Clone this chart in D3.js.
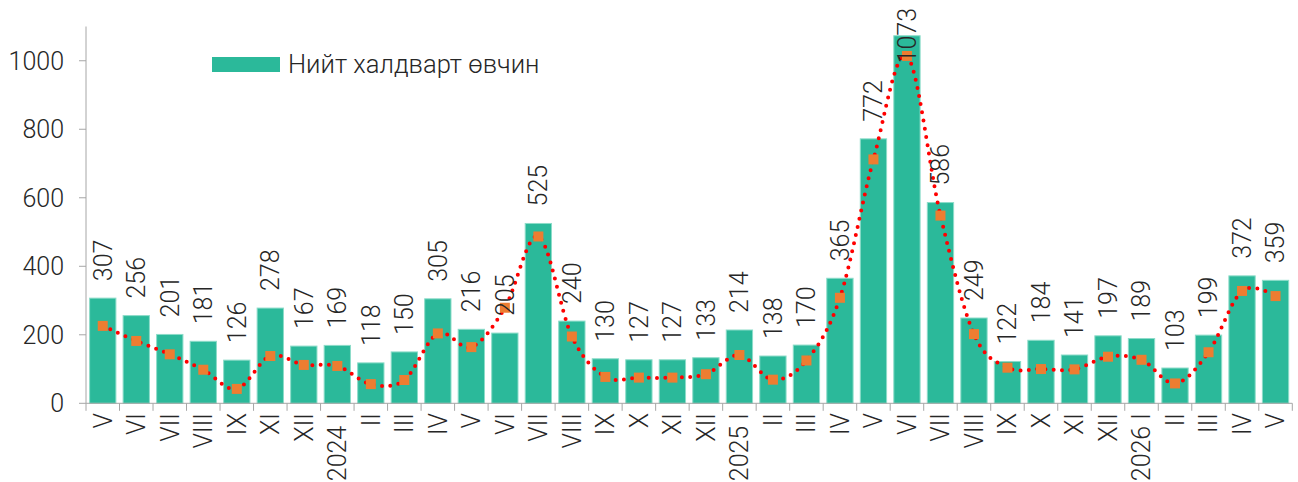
<!DOCTYPE html>
<html>
<head>
<meta charset="utf-8">
<script src="https://cdn.jsdelivr.net/npm/d3@7"></script>
<style>
    html, body { margin: 0; padding: 0; background: #fff; }
    svg text { font-family: Roboto, sans-serif; font-weight: 300; fill: #262626; }
</style>
</head>
<body>
<svg id="chart" width="1298" height="482"></svg>
<script>
// categories (months), 2023-V .. 2026-V
const months = ['V', 'VI', 'VII', 'VIII', 'IX', 'XI', 'XII',
    '2024 I', 'II', 'III', 'IV', 'V', 'VI', 'VII', 'VIII', 'IX', 'X', 'XI', 'XII',
    '2025 I', 'II', 'III', 'IV', 'V', 'VI', 'VII', 'VIII', 'IX', 'X', 'XI', 'XII',
    '2026 I', 'II', 'III', 'IV', 'V']

// total infectious disease cases (bars)
const totals = [307, 256, 201, 181, 126, 278, 167, 169, 118, 150, 305, 216, 205, 525, 240,
    130, 127, 127, 133, 214, 138, 170, 365, 772, 1073, 586, 249, 122, 184, 141, 197, 189,
    103, 199, 372, 359]

// second series (orange markers + red dotted smoothed line)
const trend = [226, 182, 143, 98, 42, 138, 112, 109, 56, 68, 204, 164, 279, 487, 195,
    77, 75, 75, 85, 141, 69, 125, 308, 712, 1014, 548, 202, 104, 100, 99, 136, 127,
    58, 149, 328, 313]

const yTicks = [0, 200, 400, 600, 800, 1000]
const legendLabel = 'Нийт халдварт өвчин'

const svg = d3.select('#chart')
const axisColor = '#a6a6a6'
const fontSize = 25

const x = d3.scaleBand()
    .domain(d3.range(months.length))
    .range([86, 1292.3])
    .paddingInner(0.215)
    .paddingOuter(0.1075)

const y = d3.scaleLinear()
    .domain([0, 1100])
    .range([403.3, 26.5])

// bars
svg.append('g')
    .selectAll('rect')
    .data(totals)
    .join('rect')
    .attr('x', (d, i) => x(i))
    .attr('y', d => y(d))
    .attr('width', x.bandwidth())
    .attr('height', d => y(0) - y(d))
    .attr('fill', '#2bb99a')
    .attr('stroke', '#8cdcc9')
    .attr('stroke-width', 1)

// y axis
const yAxis = svg.append('g')
yAxis.append('line')
    .attr('x1', 86).attr('x2', 86)
    .attr('y1', y(1100)).attr('y2', y(0))
    .attr('stroke', axisColor)
yAxis.selectAll('line.tick')
    .data(yTicks)
    .join('line')
    .classed('tick', true)
    .attr('x1', 79).attr('x2', 86)
    .attr('y1', d => y(d)).attr('y2', d => y(d))
    .attr('stroke', axisColor)
yAxis.selectAll('text')
    .data(yTicks)
    .join('text')
    .attr('x', 64)
    .attr('y', d => y(d))
    .attr('dy', '0.35em')
    .attr('text-anchor', 'end')
    .style('font-size', fontSize + 'px')
    .text(d => d)

// x axis
const xAxis = svg.append('g')
xAxis.append('line')
    .attr('x1', 86).attr('x2', 1292.3)
    .attr('y1', y(0)).attr('y2', y(0))
    .attr('stroke', axisColor)
xAxis.selectAll('line.tick')
    .data(d3.range(months.length + 1))
    .join('line')
    .classed('tick', true)
    .attr('x1', i => 86 + i * x.step()).attr('x2', i => 86 + i * x.step())
    .attr('y1', y(0)).attr('y2', y(0) + 7.5)
    .attr('stroke', axisColor)
xAxis.selectAll('text')
    .data(months)
    .join('text')
    .attr('transform', (d, i) => `translate(${x(i) + x.bandwidth() / 2} 413) rotate(-90)`)
    .attr('dy', '0.35em')
    .attr('text-anchor', 'end')
    .style('font-size', fontSize + 'px')
    .text(d => d)

// smoothed dotted line
const line = d3.line()
    .x((d, i) => x(i) + x.bandwidth() / 2)
    .y(d => y(d))
    .curve(d3.curveCardinal.tension(0))

svg.append('path')
    .datum(trend)
    .attr('d', line)
    .attr('fill', 'none')
    .attr('stroke', '#ff0000')
    .attr('stroke-width', 4)
    .attr('stroke-linecap', 'round')
    .attr('stroke-dasharray', '0 8.3')

// square markers
svg.append('g')
    .selectAll('rect')
    .data(trend)
    .join('rect')
    .attr('x', (d, i) => x(i) + x.bandwidth() / 2 - 5)
    .attr('y', d => y(d) - 5)
    .attr('width', 10)
    .attr('height', 10)
    .attr('fill', '#ed7d31')

// value labels, rotated, kept inside the top of the plot
const labels = svg.append('g')
    .selectAll('text')
    .data(totals)
    .join('text')
    .attr('dy', '0.35em')
    .style('font-size', fontSize + 'px')
    .text(d => d)

labels.attr('transform', function (d, i) {
    let len = this.getComputedTextLength()
    let start = Math.max(y(d) - 17, 8 + len)
    return `translate(${x(i) + x.bandwidth() / 2} ${start}) rotate(-90)`
})

// legend
const legend = svg.append('g')
legend.append('rect')
    .attr('x', 212).attr('y', 57)
    .attr('width', 68).attr('height', 15)
    .attr('fill', '#2bb99a')
legend.append('text')
    .attr('x', 288)
    .attr('y', 73)
    .style('font-size', '25.6px')
    .text(legendLabel)
</script>
</body>
</html>
